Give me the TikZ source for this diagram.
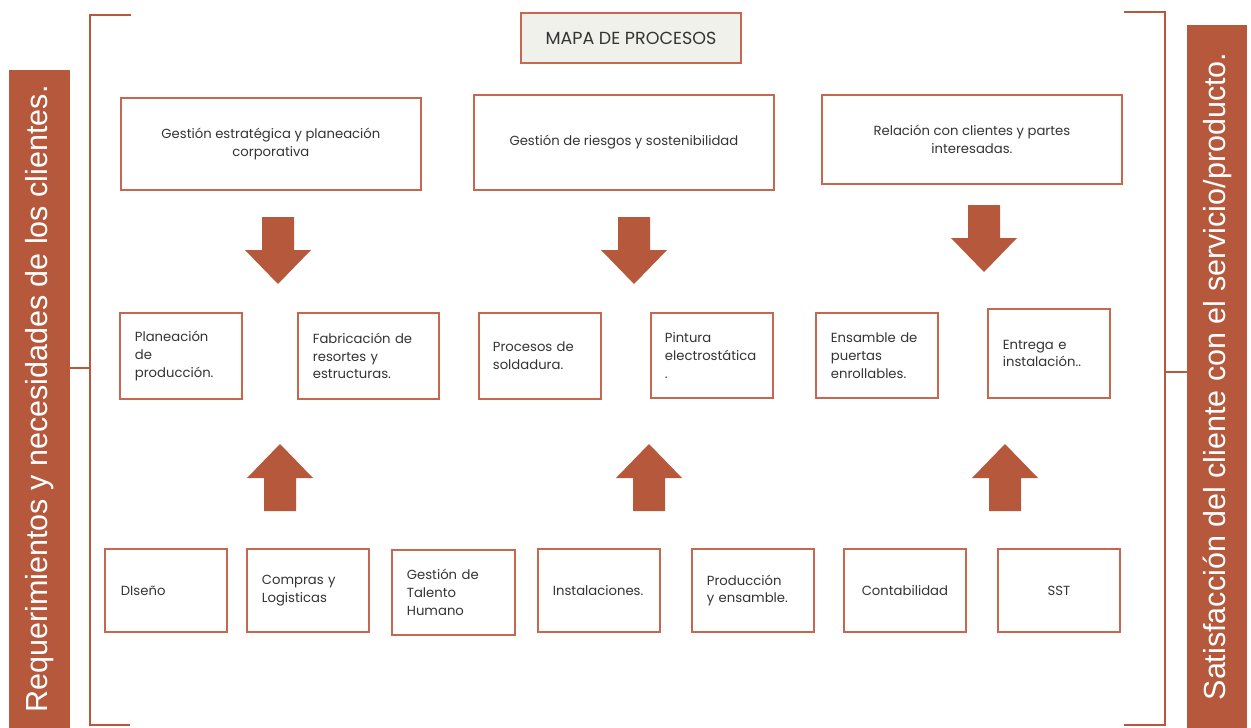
\documentclass[tikz,border=0pt]{standalone}
\usepackage{fontspec}
\setmainfont{Poppins}
\newfontfamily\sidefont{Liberation Sans}
\definecolor{rust}{RGB}{181,88,60}
\definecolor{boxline}{RGB}{198,104,80}
\definecolor{txt}{RGB}{52,52,52}
\definecolor{titlefill}{RGB}{241,241,236}
\begin{document}
\begin{tikzpicture}[x=1pt,y=-1pt,
  proc/.style={draw=boxline, line width=1.8pt, fill=white, text=txt,
    font=\fontsize{13.2}{17.8}\selectfont, inner sep=0pt, anchor=north west},
  lefttext/.style={text width=#1, align=left},
  centertext/.style={align=center},
  sidebar/.style={fill=rust, text=white, inner sep=0pt, rotate=90,
    font=\sidefont\fontsize{30.5}{34}\selectfont},
  bracket/.style={draw=rust, line width=2.4pt},
  downarrow/.pic={\fill[rust] (-16,0) -- (16,0) -- (16,33) -- (33,33) -- (0,67) -- (-33,33) -- (-16,33) -- cycle;},
  uparrow/.pic={\fill[rust] (0,0) -- (33,34) -- (16,34) -- (16,67) -- (-16,67) -- (-16,34) -- (-33,34) -- cycle;}
]
\useasboundingbox (0,0) rectangle (1251,728);
\fill[white] (0,0) rectangle (1251,728);

% side bars
\node[sidebar, minimum width=658pt, minimum height=61pt] (lbar) at (39.5,399) {Requerimientos y necesidades de los clientes.};
\node[sidebar, minimum width=703pt, minimum height=60pt] (rbar) at (1217,376.5) {Satisfacción del cliente con el servicio/producto.};

% brackets
\coordinate (lbt) at (131,15);
\coordinate (lbtc) at (90,15);
\coordinate (lbbc) at (90,725);
\coordinate (lbb) at (130,725);
\coordinate (lbm) at (90,368);
\draw[bracket] (lbt) -- (lbtc) -- (lbbc) -- (lbb);
\draw[bracket] (lbar.south |- lbm) -- (lbm);

\coordinate (rbt) at (1124,12);
\coordinate (rbtc) at (1165,12);
\coordinate (rbbc) at (1165,725);
\coordinate (rbb) at (1124,725);
\coordinate (rbm) at (1165,372);
\draw[bracket] (rbt) -- (rbtc) -- (rbbc) -- (rbb);
\draw[bracket] (rbm) -- (rbar.north |- rbm);

% title
\node[proc, fill=titlefill, minimum width=220pt, minimum height=50pt, font=\fontsize{17.5}{20}\selectfont] (title) at (520,12) {MAPA DE PROCESOS};

% top row
\node[proc, minimum width=300pt, minimum height=92pt, centertext] (t1) at (120,97) {Gestión estratégica y planeación\\corporativa};
\node[proc, minimum width=300pt, minimum height=95pt, centertext] (t2) at (473,94) {Gestión de riesgos y sostenibilidad};
\node[proc, minimum width=300pt, minimum height=89pt, centertext] (t3) at (821,94) {Relación con clientes y partes\\interesadas.};

% down arrows
\pic at (278,217) {downarrow};
\pic at (634,217) {downarrow};
\pic at (984,205) {downarrow};

% middle row
\node[proc, minimum width=122pt, minimum height=86pt, lefttext=92pt] (m1) at (119,312) {Planeación\\de\\producción.};
\node[proc, minimum width=141pt, minimum height=86pt, lefttext=111pt] (m2) at (297,312) {Fabricación de\\resortes y\\estructuras.};
\node[proc, minimum width=122pt, minimum height=86pt, lefttext=94pt] (m3) at (478,312) {Procesos de\\soldadura.};
\node[proc, minimum width=122pt, minimum height=85pt, lefttext=94pt] (m4) at (650,312) {Pintura\\electrostática\\.};
\node[proc, minimum width=122pt, minimum height=85pt, lefttext=92pt] (m5) at (815,312) {Ensamble de\\puertas\\enrollables.};
\node[proc, minimum width=122pt, minimum height=89pt, lefttext=92pt] (m6) at (987,308) {Entrega e\\instalación..};

% up arrows
\pic at (280,444) {uparrow};
\pic at (649,444) {uparrow};
\pic at (1005,444) {uparrow};

% bottom row
\node[proc, minimum width=122pt, minimum height=83pt, lefttext=90pt] (b1) at (104,548) {DIseño};
\node[proc, minimum width=122pt, minimum height=83pt, lefttext=92pt] (b2) at (246,548) {Compras y\\Logisticas};
\node[proc, minimum width=123pt, minimum height=85pt, lefttext=93pt] (b3) at (391,549) {Gestión de\\Talento\\Humano};
\node[proc, minimum width=122pt, minimum height=83pt, lefttext=92pt] (b4) at (537,548) {Instalaciones.};
\node[proc, minimum width=122pt, minimum height=83pt, lefttext=92pt] (b5) at (691,548) {Producción\\y ensamble.};
\node[proc, minimum width=122pt, minimum height=83pt, centertext] (b6) at (843,548) {Contabilidad};
\node[proc, minimum width=122pt, minimum height=83pt, centertext] (b7) at (997,548) {SST};
\end{tikzpicture}
\end{document}
